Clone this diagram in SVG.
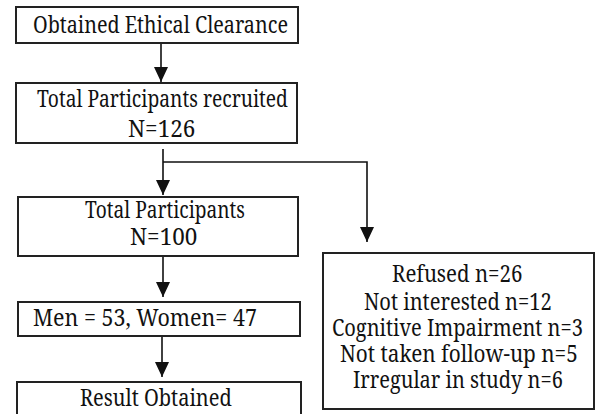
<svg xmlns="http://www.w3.org/2000/svg" width="595" height="414" viewBox="0 0 595 414">
<style>
rect.box{fill:#fff;stroke:#222;stroke-width:2}
text{font-family:'Noto Serif','DejaVu Serif','Liberation Serif',serif;font-size:23px;fill:#111}
.conn{fill:none;stroke:#111;stroke-width:1.6}
</style>
<defs>
<marker id="ah" viewBox="0 0 15 14" refX="15" refY="7" markerWidth="15" markerHeight="14" markerUnits="userSpaceOnUse" orient="auto">
<path d="M0,0 L15,7 L0,14 z" fill="#111"/>
</marker>
</defs>
<rect width="595" height="414" fill="#fff"/>
<g id="connectors">
<line class="conn" x1="161" y1="43" x2="161" y2="82" marker-end="url(#ah)"/>
<line class="conn" x1="163" y1="149" x2="163" y2="195" marker-end="url(#ah)"/>
<polyline class="conn" points="163,162 367,162 367,242" marker-end="url(#ah)"/>
<line class="conn" x1="163" y1="256" x2="163" y2="297" marker-end="url(#ah)"/>
<line class="conn" x1="162" y1="336" x2="162" y2="377" marker-end="url(#ah)"/>
</g>
<g id="n1">
<rect class="box" x="16" y="7" width="282" height="36"/>
<text transform="translate(33,33) scale(0.82,1)" textLength="311" lengthAdjust="spacingAndGlyphs">Obtained Ethical Clearance</text>
</g>
<g id="n2">
<rect class="box" x="16" y="83" width="281" height="60"/>
<text transform="translate(37,107) scale(0.82,1)" textLength="306" lengthAdjust="spacingAndGlyphs">Total Participants recruited</text>
<text transform="translate(128,137) scale(0.82,1)" textLength="82" lengthAdjust="spacingAndGlyphs">N=126</text>
</g>
<g id="n3">
<rect class="box" x="18" y="197" width="280" height="59"/>
<text transform="translate(85,218) scale(0.82,1)" textLength="195" lengthAdjust="spacingAndGlyphs">Total Participants</text>
<text transform="translate(130,245) scale(0.82,1)" textLength="82" lengthAdjust="spacingAndGlyphs">N=100</text>
</g>
<g id="n4">
<rect class="box" x="18" y="302" width="282" height="34"/>
<text transform="translate(33,326) scale(0.82,1)" textLength="273" lengthAdjust="spacingAndGlyphs">Men = 53, Women= 47</text>
</g>
<g id="n5">
<rect class="box" x="17" y="382" width="284" height="40"/>
<text transform="translate(80,406) scale(0.82,1)" textLength="185" lengthAdjust="spacingAndGlyphs">Result Obtained</text>
</g>
<g id="n6">
<rect class="box" x="323" y="253" width="271" height="156"/>
<text transform="translate(392,282) scale(0.82,1)" textLength="159" lengthAdjust="spacingAndGlyphs">Refused n=26</text>
<text transform="translate(364,310) scale(0.82,1)" textLength="229" lengthAdjust="spacingAndGlyphs">Not interested n=12</text>
<text transform="translate(332,336) scale(0.82,1)" textLength="306" lengthAdjust="spacingAndGlyphs">Cognitive Impairment n=3</text>
<text transform="translate(340,362) scale(0.82,1)" textLength="290" lengthAdjust="spacingAndGlyphs">Not taken follow-up n=5</text>
<text transform="translate(353,388) scale(0.82,1)" textLength="256" lengthAdjust="spacingAndGlyphs">Irregular in study n=6</text>
</g>
</svg>
